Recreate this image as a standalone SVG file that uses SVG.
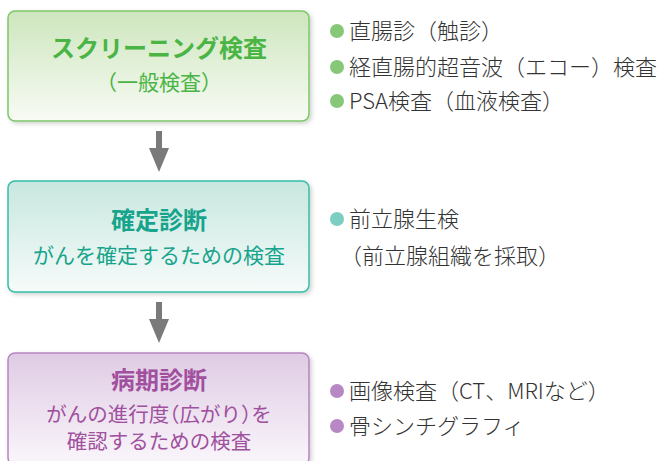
<svg xmlns="http://www.w3.org/2000/svg" width="663" height="461" viewBox="0 0 663 461">
<defs>
<linearGradient id="g1" x1="0" y1="0" x2="0" y2="1"><stop offset="0" stop-color="#cde6bd"/><stop offset="1" stop-color="#f8fbf4"/></linearGradient>
<linearGradient id="g2" x1="0" y1="0" x2="0" y2="1"><stop offset="0" stop-color="#c8e7df"/><stop offset="1" stop-color="#f6fbfa"/></linearGradient>
<linearGradient id="g3" x1="0" y1="0" x2="0" y2="1"><stop offset="0" stop-color="#dfcbe4"/><stop offset="1" stop-color="#faf6fb"/></linearGradient>
<filter id="sh" x="-5%" y="-10%" width="112%" height="125%"><feDropShadow dx="2" dy="2" stdDeviation="2" flood-color="#000" flood-opacity="0.18"/></filter>
</defs>
<style>
text{font-family:"Noto Sans CJK JP","Noto Sans",sans-serif}
.t{font-size:24px;font-weight:bold;text-anchor:middle}
.s{font-size:21px;text-anchor:middle}
.s2{font-size:20.5px;text-anchor:middle}
.h{font-feature-settings:"halt"}
.r{font-size:22px;fill:#333;font-weight:300}
.box{stroke-width:1.5}
</style>
<rect width="663" height="461" fill="#fff"/>
<g id="node-screening">
<rect class="box" x="8" y="11" width="301" height="110" rx="7" fill="url(#g1)" stroke="#7dc66a" filter="url(#sh)"/>
<text class="t" x="159" y="57" fill="#4ab445">スクリーニング検査</text>
<text class="s" x="159" y="90" fill="#4ab445">（一般検査）</text>
</g>
<g id="node-kakutei">
<rect class="box" x="8" y="181" width="301" height="111" rx="7" fill="url(#g2)" stroke="#35bda6" filter="url(#sh)"/>
<text class="t" x="159" y="229" fill="#17a48c">確定診断</text>
<text class="s" x="159" y="263" fill="#17a48c">がんを確定するための検査</text>
</g>
<g id="node-byouki">
<rect class="box" x="8" y="353" width="301" height="112" rx="7" fill="url(#g3)" stroke="#b784c1" filter="url(#sh)"/>
<text class="t" x="159" y="389" fill="#a0509e">病期診断</text>
<text class="s2 h" x="159" y="422" fill="#a0509e">がんの進行度（広がり）を</text>
<text class="s2" x="159" y="449" fill="#a0509e">確認するための検査</text>
</g>
<g id="connectors" fill="#7a7a7a">
<path d="M156 131 H162 V148 H169 L159 172 L149 148 H156 Z"/>
<path d="M156 302 H162 V319 H169 L159 343 L149 319 H156 Z"/>
</g>
<g id="list-screening">
<circle cx="337" cy="31" r="7" fill="#86c878"/>
<text class="r" x="349" y="39">直腸診（触診）</text>
<circle cx="337" cy="67" r="7" fill="#86c878"/>
<text class="r" x="349" y="75">経直腸的超音波（エコー）検査</text>
<circle cx="337" cy="101" r="7" fill="#86c878"/>
<text class="r" x="349" y="109">PSA検査（血液検査）</text>
</g>
<g id="list-kakutei">
<circle cx="337" cy="219" r="7" fill="#7ccec3"/>
<text class="r" x="349" y="227">前立腺生検</text>
<text class="r" x="340" y="264">（前立腺組織を採取）</text>
</g>
<g id="list-byouki">
<circle cx="337" cy="391" r="7" fill="#b788c3"/>
<text class="r" x="349" y="399">画像検査（CT、MRIなど）</text>
<circle cx="337" cy="426" r="7" fill="#b788c3"/>
<text class="r" x="349" y="434">骨シンチグラフィ</text>
</g>
</svg>
